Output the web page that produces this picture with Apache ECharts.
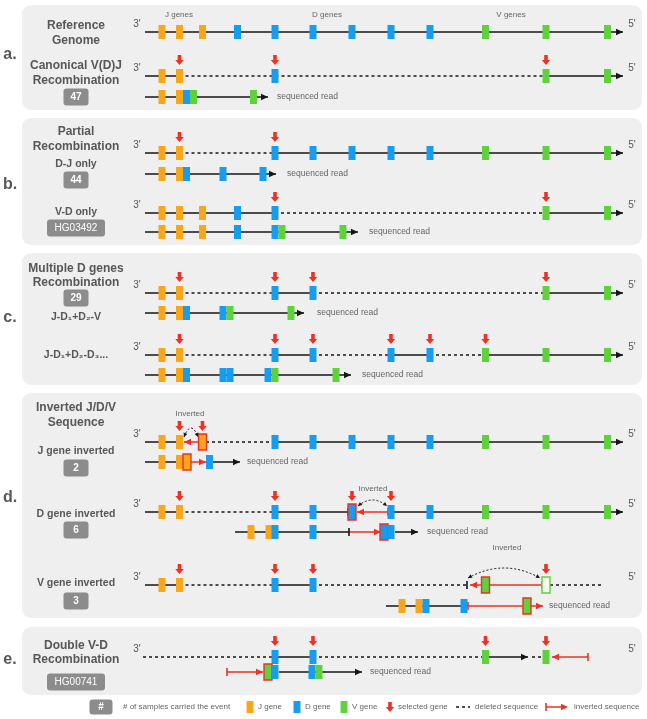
<!DOCTYPE html>
<html><head><meta charset="utf-8">
<script src="https://cdn.jsdelivr.net/npm/echarts@6.0.0/dist/echarts.min.js"></script>
<style>html,body{margin:0;padding:0;background:#fff;}#chart{width:647px;height:719px;}</style>
</head><body><div id="chart"></div>
<script>
// ---------- reference gene positions along the locus (track units, 3' -> 5') ----------
const J_GENES = [162, 179.5, 202.5];
const D_GENES = [237.5, 275, 313, 352, 391, 430];
const V_GENES = [485.5, 546, 607.5];
const TRACK = [145, 623];
const REF = {};
J_GENES.forEach((x, i) => REF['J' + (i + 1)] = x);
D_GENES.forEach((x, i) => REF['D' + (i + 1)] = x);
V_GENES.forEach((x, i) => REF['V' + (i + 1)] = x);

// ---------- row baselines ----------
const ROW_Y = {a1:32,a2:76,a3:97,b1:153,b2:174,b3:213,b4:232,c1:293,c2:313,c3:355,c4:375,
               d1:442,d2:462,d3:512,d4:532,d5:585,d6:606,e1:657,e2:672};

// ---------- panels ----------
const PANELS = [[5,110],[118,245],[253,385],[393,618],[627,695]];
const PANEL_X = [22, 642];
const PANEL_LETTERS = ['a.','b.','c.','d.','e.'];
const PANEL_LETTER_Y = [55,185,318,498,660];

// ---------- genomic tracks: genes kept ('!' = inverted, 'o' = empty slot) ----------
const TRACK_GENES = {
  a1:'J1 J2 J3 D1 D2 D3 D4 D5 D6 V1 V2 V3',
  a2:'J1 J2 D2 V2 V3',
  b1:'J1 J2 D2 D3 D4 D5 D6 V1 V2 V3',
  b3:'J1 J2 J3 D1 D2 V2 V3',
  c1:'J1 J2 D2 D3 V2 V3',
  c3:'J1 J2 D2 D3 D5 D6 V1 V2 V3',
  d1:'J1 J2 J3! D2 D3 D4 D5 D6 V1 V2 V3',
  d3:'J1 J2 D2 D3 D4! D5 D6 V1 V2 V3',
  d5:'J1 J2 D2 D3 V1! V2o',
  e1:'D2 D3 V1 V2'
};
// ---------- sequenced reads: [gene type, position, flag] ----------
const READ_GENES = {
  a3:[['J',162],['J',179.5],['D',186.5],['V',193.5],['V',253.5]],
  b2:[['J',162],['J',179.5],['D',186.5],['D',223],['D',263]],
  b4:[['J',162],['J',179.5],['J',202.5],['D',237.5],['D',275],['V',282],['V',343]],
  c2:[['J',162],['J',179.5],['D',186.5],['D',223],['V',230],['V',291]],
  c4:[['J',162],['J',179.5],['D',186.5],['D',223],['D',230],['D',268],['V',275],['V',336]],
  d2:[['J',162],['J',179.5],['J',187,'!'],['D',209.5]],
  d4:[['J',251],['J',269],['D',275],['D',313],['D',384,'!'],['D',391]],
  d6:[['J',402],['J',419],['D',426],['D',464],['V',527,'!']],
  e2:[['V',268,'!'],['D',275],['D',312],['V',319]]
};
// ---------- segments: [from, to, kind] kind 0 = kept, 1 = deleted, 2 = inverted ----------
const S = TRACK[0], E = TRACK[1];
const SEGMENTS = {
  a1:[[S,E,0]],
  a2:[[S,REF.J2,0],[REF.J2,REF.V2,1],[REF.V2,E,0]],
  a3:[[S,268,0]],
  b1:[[S,REF.J2,0],[REF.J2,REF.D2,1],[REF.D2,E,0]],
  b2:[[S,276,0]],
  b3:[[S,REF.D2,0],[REF.D2,REF.V2,1],[REF.V2,E,0]],
  b4:[[S,358,0]],
  c1:[[S,REF.J2,0],[REF.J2,REF.D2,1],[REF.D2,REF.D3,0],[REF.D3,REF.V2,1],[REF.V2,E,0]],
  c2:[[S,304,0]],
  c3:[[S,REF.J2,0],[REF.J2,REF.D2,1],[REF.D2,REF.D3,0],[REF.D3,REF.D5,1],[REF.D5,REF.D6,0],[REF.D6,REF.V1,1],[REF.V1,E,0]],
  c4:[[S,351,0]],
  d1:[[S,REF.J2,0],[184,199,2],[206,REF.D2,1],[REF.D2,E,0]],
  d2:[[S,183,0],[190,206,2],[213,240,0]],
  d3:[[S,REF.J2,0],[REF.J2,REF.D2,1],[REF.D2,348,0],[357,388,2],[REF.D5,E,0]],
  d4:[[235,349,0],[349,381,2],[395,418,0]],
  d5:[[S,REF.J2,0],[REF.J2,REF.D2,1],[REF.D2,REF.D3,0],[REF.D3,467,1],[470,542,2],[550,604,1]],
  d6:[[386,468,0],[468,543,2]],
  e1:[[143,REF.D2,1],[REF.D2,REF.D3,0],[REF.D3,REF.V1,1],[REF.V1,528,0],[532,543,1],[552,588,2]],
  e2:[[227,263,2],[279,362,0]]
};
// ---------- arrow heads: [tip, row, direction, red?] ----------
const HEADS = [
  [E,'a1',1,0],[E,'a2',1,0],[268,'a3',1,0],
  [E,'b1',1,0],[276,'b2',1,0],[E,'b3',1,0],[358,'b4',1,0],
  [E,'c1',1,0],[304,'c2',1,0],[E,'c3',1,0],[351,'c4',1,0],
  [E,'d1',1,0],[184,'d1',-1,1],[240,'d2',1,0],[206,'d2',1,1],
  [E,'d3',1,0],[357,'d3',-1,1],[418,'d4',1,0],[381,'d4',1,1],
  [470,'d5',-1,1],[543,'d6',1,1],
  [528,'e1',1,0],[552,'e1',-1,1],[263,'e2',1,1],[362,'e2',1,0]
];
// ---------- breakpoint ticks: [x, row, red?] ----------
const TICKS = [[348,'d3',0],[388,'d3',1],[349,'d4',0],[467,'d5',0],[542,'d5',1],[468,'d6',1],[588,'e1',1],[227,'e2',1]];
// ---------- selected genes (red arrows) ----------
const SELECTED = {
  a2:'J2 D2 V2', b1:'J2 D2', b3:'D2 V2', c1:'J2 D2 D3 V2', c3:'J2 D2 D3 D5 D6 V1',
  d1:'J2 J3', d3:'J2 D2 D4 D5', d5:'J2 D2 D3 V2', e1:'D2 D3 V1 V2'
};
// ---------- inversion swaps (dotted double arrows): [x1, x2, yEnd, yPeak] ----------
const SWAPS = [[184,198,437,428],[358,387,506,500],[468,540,578,568]];

// ---------- texts ----------
const LABELS = [ // [text, y, style] centred in left column
  ['Reference',26,'main'],['Genome',41,'main'],['Canonical V(D)J',66,'main'],['Recombination',81,'main'],
  ['Partial',132,'main'],['Recombination',147,'main'],['D-J only',164,'sub'],['V-D only',212,'sub'],
  ['Multiple D genes',269,'main'],['Recombination',283,'main'],['J-D₁+D₂-V',317,'sub'],['J-D₁+D₂-D₃...',355,'sub'],
  ['Inverted J/D/V',408,'main'],['Sequence',423,'main'],['J gene inverted',451,'sub'],['D gene inverted',514,'sub'],['V gene inverted',583,'sub'],
  ['Double V-D',646,'main'],['Recombination',660,'main']
];
const BADGES = [['47',97,25],['44',180,25],['HG03492',228,58],['29',298,25],['2',468,25],['6',530,25],['3',601,25],['HG00741',682,58]];
const TAGS = [['J genes',179,15],['D genes',327,15],['V genes',511,15],['Inverted',190,414],['Inverted',373,489],['Inverted',507,548]];
const END_ROWS = ['a1','a2','b1','b3','c1','c3','d1','d3','d5','e1'];
const READ_NOTES = {a3:277,b2:287,b4:369,c2:317,c4:362,d2:247,d4:427,d6:549,e2:370};
const LEGEND_Y = 707;
const LEGEND_TEXT = [['# of samples carried the event',123],['J gene',258],['D gene',305],['V gene',352],['selected gene',398],['deleted sequence',475],['inverted sequence',574]];
const LEGEND_SWATCH = [['J',250],['D',297],['V',344]];

// ---------- styles ----------
const C = {J:'#FAA61A', D:'#169DF1', V:'#5ED23C', red:'#EE3124', ink:'#161616', text:'#575757', note:'#666', badge:'#8C8C8C', panel:'#EFEFEF'};
const FONT = '"Liberation Sans", Arial, Helvetica, sans-serif';
const TXT = {
  main:{font:'bold 12px '+FONT, fill:C.text, align:'center'},
  sub:{font:'bold 10.5px '+FONT, fill:C.text, align:'center'},
  end:{font:'10px '+FONT, fill:C.text, align:'center'},
  note:{font:'8.5px '+FONT, fill:C.note, align:'left'},
  tag:{font:'8px '+FONT, fill:C.note, align:'center'},
  letter:{font:'bold 16px '+FONT, fill:C.text, align:'center'},
  legend:{font:'8px '+FONT, fill:C.note, align:'left'},
  badge:{font:'bold 10px '+FONT, fill:'#fff', align:'center'},
  badgeId:{font:'10px '+FONT, fill:'#fff', align:'center'}
};
const LABEL_X = 76;

// ---------- build mark lists ----------
const genes = [];      // [x, y, type, flag]
Object.keys(TRACK_GENES).forEach(r => TRACK_GENES[r].split(' ').forEach(n => {
  const name = n.slice(0,2), flag = n.length > 2 ? n[2] : '';
  genes.push([REF[name], ROW_Y[r], name[0], flag]);
}));
Object.keys(READ_GENES).forEach(r => READ_GENES[r].forEach(g => genes.push([g[1], ROW_Y[r], g[0], g[2] || ''])));
const swatches = LEGEND_SWATCH.map(s => [s[1], LEGEND_Y, s[0], 'legend']);

const segs = [];
Object.keys(SEGMENTS).forEach(r => SEGMENTS[r].forEach(s => segs.push([s[0], s[1], ROW_Y[r], s[2]])));
segs.push([456, 470, LEGEND_Y, 1], [546, 566, LEGEND_Y, 2]);
const heads = HEADS.map(h => [h[0], ROW_Y[h[1]], h[2], h[3]]);
heads.push([568, LEGEND_Y, 1, 1]);
const ticks = TICKS.map(t => [t[0], ROW_Y[t[1]], t[2]]);
ticks.push([546, LEGEND_Y, 1]);
const sel = []; // [x, tipY]
Object.keys(SELECTED).forEach(r => SELECTED[r].split(' ').forEach(n => sel.push([REF[n], ROW_Y[r] - 11])));
sel.push([390, LEGEND_Y + 5]);

const texts = []; // [x, y, text, style]
LABELS.forEach(l => texts.push([LABEL_X, l[1], l[0], l[2]]));
TAGS.forEach(t => texts.push([t[1], t[2], t[0], 'tag']));
END_ROWS.forEach(r => { texts.push([137, ROW_Y[r]-8, "3'", 'end']); texts.push([632, ROW_Y[r]-8, "5'", 'end']); });
Object.keys(READ_NOTES).forEach(r => texts.push([READ_NOTES[r], ROW_Y[r], 'sequenced read', 'note']));
PANEL_LETTERS.forEach((l, i) => texts.push([10, PANEL_LETTER_Y[i], l, 'letter']));
LEGEND_TEXT.forEach(t => texts.push([t[1], LEGEND_Y, t[0], 'legend']));
const badges = BADGES.map(b => [LABEL_X, b[1], b[0], b[2]]);
badges.push([101, LEGEND_Y, '#', 23]);

// ---------- render ----------
function P(api, x, y) { return api.coord([x, y]); }
const base = {type:'custom', coordinateSystem:'cartesian2d', silent:true, clip:false, animation:false};
function xyData(arr) { return arr.map(d => [d[0], d[1]]); }

const series = [
  Object.assign({}, base, {z:1, data: PANELS.map(p => [PANEL_X[0], p[0]]), renderItem(p, api) {
    const d = PANELS[p.dataIndex];
    const a = P(api, PANEL_X[0], d[0]), b = P(api, PANEL_X[1], d[1]);
    return {type:'rect', shape:{x:a[0], y:a[1], width:b[0]-a[0], height:b[1]-a[1], r:9}, style:{fill:C.panel}};
  }}),
  Object.assign({}, base, {z:2, data: segs.map(s => [s[0], s[2]]), renderItem(p, api) {
    const d = segs[p.dataIndex];
    const a = P(api, d[0], d[2]), b = P(api, d[1], d[2]);
    return {type:'line', shape:{x1:a[0], y1:a[1], x2:b[0], y2:b[1]},
      style:{stroke: d[3] === 2 ? C.red : C.ink, lineWidth:1.5, lineDash: d[3] === 1 ? [3,3] : null}};
  }}),
  Object.assign({}, base, {z:3, data: xyData(ticks), renderItem(p, api) {
    const d = ticks[p.dataIndex]; const c = P(api, d[0], d[1]);
    return {type:'line', shape:{x1:c[0], y1:c[1]-4, x2:c[0], y2:c[1]+4}, style:{stroke: d[2] ? C.red : C.ink, lineWidth:1.6}};
  }}),
  Object.assign({}, base, {z:3, data: xyData(heads), renderItem(p, api) {
    const d = heads[p.dataIndex]; const c = P(api, d[0], d[1]); const k = d[2];
    return {type:'polygon', shape:{points:[[c[0], c[1]], [c[0]-k*7, c[1]-3.2], [c[0]-k*7, c[1]+3.2]]}, style:{fill: d[3] ? C.red : C.ink}};
  }}),
  Object.assign({}, base, {z:4, data: xyData(genes.concat(swatches)), renderItem(p, api) {
    const all = genes.concat(swatches); const d = all[p.dataIndex]; const c = P(api, d[0], d[1]);
    const col = C[d[2]];
    if (d[3] === 'legend') return {type:'rect', shape:{x:c[0]-3.5, y:c[1]-6, width:7, height:12}, style:{fill:col}};
    if (d[3] === '!') return {type:'rect', shape:{x:c[0]-4, y:c[1]-8, width:8, height:16}, style:{fill:col, stroke:C.red, lineWidth:1.4}};
    if (d[3] === 'o') return {type:'rect', shape:{x:c[0]-4, y:c[1]-8, width:8, height:16}, style:{fill:'#F6F6F6', stroke:C.V, lineWidth:1.4}};
    return {type:'rect', shape:{x:c[0]-3.5, y:c[1]-7, width:7, height:14}, style:{fill:col}};
  }}),
  Object.assign({}, base, {z:4, data: xyData(sel), renderItem(p, api) {
    const d = sel[p.dataIndex]; const c = P(api, d[0], d[1]); const x = c[0], t = c[1];
    return {type:'polygon', shape:{points:[[x-1.8,t-10],[x+1.8,t-10],[x+1.8,t-5],[x+4.2,t-5],[x,t],[x-4.2,t-5],[x-1.8,t-5]]}, style:{fill:C.red}};
  }}),
  Object.assign({}, base, {z:4, data: SWAPS.map(s => [s[0], s[2]]), renderItem(p, api) {
    const d = SWAPS[p.dataIndex];
    const a = P(api, d[0], d[2]), b = P(api, d[1], d[2]), pk = P(api, (d[0]+d[1])/2, d[3]);
    const cp = [pk[0], 2*pk[1] - a[1]];
    function head(end) {
      const dx = end[0]-cp[0], dy = end[1]-cp[1], L = Math.hypot(dx, dy), ux = dx/L, uy = dy/L;
      return {type:'polygon', shape:{points:[[end[0], end[1]], [end[0]-ux*4-uy*2, end[1]-uy*4+ux*2], [end[0]-ux*4+uy*2, end[1]-uy*4-ux*2]]}, style:{fill:C.ink}};
    }
    return {type:'group', children:[
      {type:'bezierCurve', shape:{x1:a[0], y1:a[1], x2:b[0], y2:b[1], cpx1:cp[0], cpy1:cp[1]}, style:{stroke:C.ink, lineWidth:1, lineDash:[2,2], fill:null}},
      head(a), head(b)
    ]};
  }}),
  Object.assign({}, base, {z:5, data: xyData(badges), renderItem(p, api) {
    const d = badges[p.dataIndex]; const c = P(api, d[0], d[1]); const w = d[3], h = d[2] === '#' ? 15 : 17;
    const st = TXT[d[2].length > 3 ? 'badgeId' : 'badge'];
    return {type:'group', children:[
      {type:'rect', shape:{x:c[0]-w/2, y:c[1]-h/2, width:w, height:h, r:3}, style:{fill:C.badge}},
      {type:'text', x:c[0], y:c[1]+0.5, style:{text:d[2], font:st.font, fill:st.fill, textAlign:'center', textVerticalAlign:'middle', align:'center', verticalAlign:'middle'}}
    ]};
  }}),
  Object.assign({}, base, {z:5, data: xyData(texts), renderItem(p, api) {
    const d = texts[p.dataIndex]; const c = P(api, d[0], d[1]); const st = TXT[d[3]];
    return {type:'text', x:c[0], y:c[1], style:{text:d[2], font:st.font, fill:st.fill, textAlign:st.align, textVerticalAlign:'middle', align:st.align, verticalAlign:'middle'}};
  }})
];

const chart = echarts.init(document.getElementById('chart'), null, {renderer:'canvas'});
chart.setOption({
  animation:false,
  backgroundColor:'#ffffff',
  grid:{left:0, right:0, top:0, bottom:0},
  xAxis:{type:'value', min:0, max:647, show:false},
  yAxis:{type:'value', min:0, max:719, inverse:true, show:false},
  series: series
});
</script></body></html>
